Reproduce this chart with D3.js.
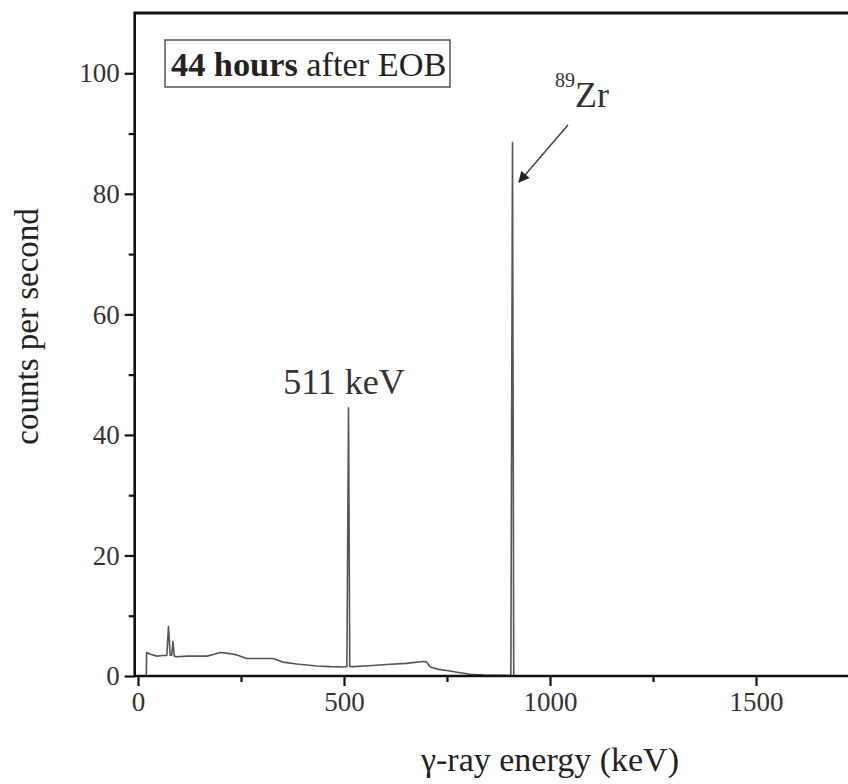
<!DOCTYPE html>
<html>
<head>
<meta charset="utf-8">
<script src="https://cdn.jsdelivr.net/npm/d3@7"></script>
<style>
  html, body { margin: 0; padding: 0; background: #fff; }
  svg { display: block; }
  text { font-family: "Liberation Serif", "Times New Roman", serif; }
</style>
</head>
<body>
<svg id="chart" width="848" height="784"></svg>
<script>
// ---- data ----
const energy = [20, 21, 30, 46, 60, 70, 74, 78, 82, 85, 88, 94, 120, 167, 185, 199, 215, 240, 264, 300, 328, 340, 352, 385, 434, 466, 500, 507, 511, 514, 522, 560, 604, 650, 692, 700, 709, 730, 749, 782, 806, 840, 880, 905, 909, 912, 950, 1000, 1200, 1500, 1780];
const counts = [0, 3.9, 3.6, 3.3, 3.4, 3.4, 8.2, 3.4, 3.5, 5.7, 3.3, 3.2, 3.3, 3.3, 3.6, 3.9, 3.8, 3.5, 2.9, 2.9, 2.9, 2.6, 2.3, 2.0, 1.65, 1.55, 1.5, 1.6, 44.5, 1.6, 1.55, 1.7, 1.9, 2.1, 2.4, 2.35, 1.5, 1.1, 0.9, 0.55, 0.3, 0.15, 0.1, 0.08, 88.5, 0.05, 0.03, 0.02, 0.02, 0.02, 0.02];
const xMajorTicks = [0, 500, 1000, 1500];
const xMinorTicks = [250, 750, 1250, 1750];
const yMajorTicks = [0, 20, 40, 60, 80, 100];
const yMinorTicks = [10, 30, 50, 70, 90];
const xTitle = "γ-ray energy (keV)";
const yTitle = "counts per second";

const svg = d3.select("#chart");
const x = d3.scaleLinear().domain([-8, 1800]).range([134.7, 138 + 1800 * 0.412]);
const y = d3.scaleLinear().domain([0, 110]).range([676, 13]);

const data = energy.map((e, i) => ({ e, c: counts[i] }));

// spectrum
const line = d3.line().x(d => x(d.e)).y(d => y(d.c));
svg.append("path")
  .datum(data)
  .attr("d", line)
  .attr("fill", "none")
  .attr("stroke", "#555")
  .attr("stroke-width", 1.6)
  .attr("stroke-linejoin", "round");

// axes
const styleAxis = (g, fs) => {
  g.select(".domain").remove();
  g.selectAll(".tick line").attr("stroke", "#111").attr("stroke-width", 2.2);
  g.selectAll(".tick text").attr("fill", "#333").attr("font-size", fs)
    .attr("font-family", "'Liberation Serif', 'Times New Roman', serif");
};

const xAxis = svg.append("g").attr("transform", `translate(0,${y(0)})`)
  .call(d3.axisBottom(x).tickValues(xMajorTicks).tickSize(10).tickPadding(6).tickFormat(d3.format("d")));
styleAxis(xAxis, 27);
const xMinor = svg.append("g").attr("transform", `translate(0,${y(0)})`)
  .call(d3.axisBottom(x).tickValues(xMinorTicks).tickSize(6).tickFormat(""));
styleAxis(xMinor, 27);

const yAxis = svg.append("g").attr("transform", `translate(${x(-8)},0)`)
  .call(d3.axisLeft(y).tickValues(yMajorTicks).tickSize(10).tickPadding(5).tickFormat(d3.format("d")));
styleAxis(yAxis, 27);
const yMinor = svg.append("g").attr("transform", `translate(${x(-8)},0)`)
  .call(d3.axisLeft(y).tickValues(yMinorTicks).tickSize(6).tickFormat(""));
styleAxis(yMinor, 27);

// axis lines (frame)
svg.append("line").attr("x1", x(-8)).attr("x2", 848).attr("y1", y(0)).attr("y2", y(0))
  .attr("stroke", "#111").attr("stroke-width", 2.6);
svg.append("line").attr("x1", x(-8)).attr("x2", x(-8)).attr("y1", y(110) - 1).attr("y2", y(0) + 1)
  .attr("stroke", "#111").attr("stroke-width", 2.6);
svg.append("line").attr("x1", x(-8) - 1).attr("x2", 848).attr("y1", y(110)).attr("y2", y(110))
  .attr("stroke", "#111").attr("stroke-width", 3);

// axis titles
svg.append("text").attr("x", x(1000)).attr("y", 771).attr("text-anchor", "middle")
  .attr("font-size", 34).attr("fill", "#222").text(xTitle);
svg.append("text").attr("transform", `translate(38,${y(58)}) rotate(-90)`).attr("text-anchor", "middle")
  .attr("font-size", 33).attr("fill", "#222").text(yTitle);

// annotation box
svg.append("rect").attr("x", 165).attr("y", 40).attr("width", 285).attr("height", 47)
  .attr("fill", "none").attr("stroke", "#555").attr("stroke-width", 1.5);
const ann = svg.append("text").attr("x", 171).attr("y", 76).attr("font-size", 34.3).attr("fill", "#222");
ann.append("tspan").attr("font-weight", "bold").text("44 hours");
ann.append("tspan").text(" after EOB");

// 511 keV label
svg.append("text").attr("x", x(500)).attr("y", 394).attr("text-anchor", "middle")
  .attr("font-size", 36).attr("fill", "#333").text("511 keV");

// 89Zr label
const zr = svg.append("text").attr("x", 555).attr("y", 107).attr("fill", "#333");
zr.append("tspan").attr("font-size", 20).attr("dy", -20).text("89");
zr.append("tspan").attr("font-size", 36).attr("dy", 20).text("Zr");

// arrow
svg.append("defs").append("marker").attr("id", "ah").attr("viewBox", "0 0 10 10")
  .attr("refX", 9).attr("refY", 5).attr("markerWidth", 13).attr("markerHeight", 11)
  .attr("markerUnits", "userSpaceOnUse").attr("orient", "auto")
  .append("path").attr("d", "M0,0 L10,5 L0,10 Z").attr("fill", "#222");
svg.append("line").attr("x1", 568).attr("y1", 125).attr("x2", 519).attr("y2", 182)
  .attr("stroke", "#444").attr("stroke-width", 1.5).attr("marker-end", "url(#ah)");
</script>
</body>
</html>
